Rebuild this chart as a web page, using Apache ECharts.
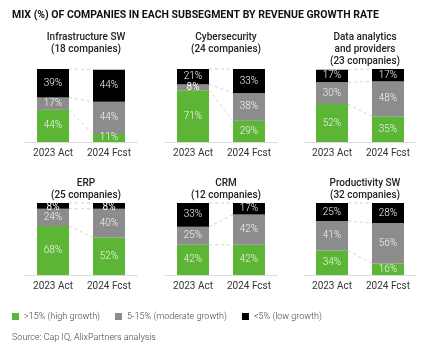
<!DOCTYPE html>
<html>
<head>
<meta charset="utf-8">
<script src="https://cdn.jsdelivr.net/npm/echarts@6/dist/echarts.min.js"></script>
<style>
  html, body { margin: 0; padding: 0; background: #fff; }
  #chart { width: 421px; height: 348px; }
</style>
</head>
<body>
<div id="chart"></div>
<script>
// Period categories shared by every panel
const periods = ['2023 Act', '2024 Fcst'];

// Panel titles
const panelTitles = [
  'Infrastructure SW\n(18 companies)',
  'Cybersecurity\n(24 companies)',
  'Data analytics\nand providers\n(23 companies)',
  'ERP\n(25 companies)',
  'CRM\n(12 companies)',
  'Productivity SW\n(32 companies)'
];

// Share of companies (%) per growth bucket, [2023 Act, 2024 Fcst]
const highGrowth     = [[44, 11], [71, 29], [52, 35], [68, 52], [42, 42], [34, 16]];
const moderateGrowth = [[17, 44], [8, 38], [30, 48], [24, 40], [25, 42], [41, 56]];
const lowGrowth      = [[39, 44], [21, 33], [17, 17], [8, 8], [33, 17], [25, 28]];

const seriesNames = ['>15% (high growth)', '5-15% (moderate growth)', '<5% (low growth)'];
const colors = ['#5db535', '#8c8c8c', '#000000'];

const FONT = 'Roboto, "Liberation Sans", sans-serif';
const BAR_W = 32;

// Panel layout
const colLeft = [25, 165, 304];
const rowTop = [69, 203];
const rowHeight = [73, 72];
const titleTop = [26, 172];
const GRID_W = 112;

const grids = [], xAxes = [], yAxes = [], series = [], titles = [];

for (let p = 0; p < 6; p++) {
  const col = p % 3, row = Math.floor(p / 3);
  grids.push({ left: colLeft[col], top: rowTop[row], width: GRID_W, height: rowHeight[row] });
  xAxes.push({
    type: 'category', gridIndex: p, data: periods,
    axisLine: { lineStyle: { color: '#dcdcdc' } },
    axisTick: { show: false },
    axisLabel: { interval: 0, hideOverlap: false, color: '#333', fontSize: 10, fontFamily: FONT, margin: 6 }
  });
  yAxes.push({ type: 'value', gridIndex: p, min: 0, max: 100, show: false });

  titles.push({
    text: panelTitles[p],
    left: colLeft[col] + GRID_W / 2,
    top: titleTop[row],
    textAlign: 'center',
    textStyle: { fontSize: 10, fontWeight: 500, color: '#222', fontFamily: FONT, lineHeight: 12 }
  });

  const buckets = [highGrowth[p], moderateGrowth[p], lowGrowth[p]];
  buckets.forEach((vals, k) => {
    series.push({
      type: 'bar', name: seriesNames[k], xAxisIndex: p, yAxisIndex: p,
      stack: 'mix' + p, barWidth: BAR_W,
      // thin segments get a slightly heavier label; the top one is nudged down into the bar
      data: vals.map(v => (v < 10)
        ? { value: v, label: { fontWeight: 'normal', color: '#ffffff', offset: [0, k === 2 ? 1.5 : 0] } }
        : v),
      itemStyle: { color: colors[k] },
      label: {
        show: true, position: 'inside', formatter: '{c}%',
        color: '#f4f4f4', fontSize: 10, fontWeight: 300, fontFamily: FONT
      }
    });
  });

  // Dashed connectors linking each stack boundary between the two periods
  const bounds = [];
  let c0 = 0, c1 = 0;
  buckets.forEach(vals => {
    c0 += vals[0]; c1 += vals[1];
    bounds.push([0, Math.min(c0, 100), Math.min(c1, 100)]);
  });
  series.push({
    type: 'custom', xAxisIndex: p, yAxisIndex: p, silent: true, z: 1,
    data: bounds,
    encode: { x: 0, y: 1 },
    renderItem: function (params, api) {
      const a = api.coord([0, api.value(1)]);
      const b = api.coord([1, api.value(2)]);
      return {
        type: 'line',
        shape: { x1: a[0] + BAR_W / 2, y1: a[1], x2: b[0] - BAR_W / 2, y2: b[1] },
        style: { stroke: '#d4d4d4', lineWidth: 1, lineDash: [3, 3] }
      };
    }
  });
}

titles.unshift({
  text: 'MIX (%) OF COMPANIES IN EACH SUBSEGMENT BY REVENUE GROWTH RATE',
  left: 7, top: 5,
  textStyle: { fontSize: 10.5, fontWeight: 'bold', color: '#111', fontFamily: FONT }
});
titles.push({
  text: 'Source: Cap IQ, AlixPartners analysis',
  left: 7, top: 328,
  textStyle: { fontSize: 9, fontWeight: 300, color: '#444', fontFamily: FONT }
});

const chart = echarts.init(document.getElementById('chart'), null, { renderer: 'canvas' });
chart.setOption({
  animation: false,
  backgroundColor: '#fff',
  title: titles,
  grid: grids,
  xAxis: xAxes,
  yAxis: yAxes,
  legend: {
    left: 7, top: 307,
    data: seriesNames.map((n, i) => ({ name: n, itemStyle: { color: colors[i] } })),
    icon: 'rect', itemWidth: 7, itemHeight: 7, itemGap: 15,
    textStyle: { fontSize: 9, fontWeight: 300, color: '#444', fontFamily: FONT }
  },
  series: series
});
</script>
</body>
</html>
